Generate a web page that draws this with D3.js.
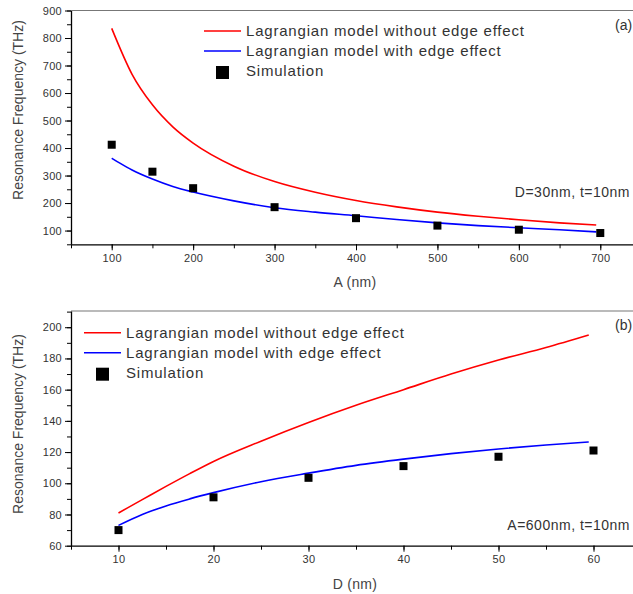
<!DOCTYPE html>
<html>
<head>
<meta charset="utf-8">
<title>Resonance frequency</title>
<script src="https://cdn.jsdelivr.net/npm/d3@7/dist/d3.min.js"></script>
<style>
  body { margin: 0; background: #fff; }
  svg { display: block; font-family: "Liberation Sans", Arial, sans-serif; }
</style>
</head>
<body>
<svg width="633" height="594"></svg>
<script>
// panel (a): frequency vs A, D=30nm t=10nm
var aModelA = [100, 125, 150, 175, 200, 250, 300, 350, 400, 450, 500, 550, 600, 650, 695];
var aNoEdge = [835, 668, 557, 477, 418, 334, 278, 239, 209, 186, 167, 152, 139, 128, 120];
var aEdgeA = [100, 110, 125, 150, 175, 200, 250, 300, 350, 400, 450, 500, 550, 600, 650, 695];
var aEdge = [363, 345, 320, 287, 260, 240, 208, 183, 167, 154, 140, 128, 118, 110, 103, 95];
var aSimA = [100, 150, 200, 300, 400, 500, 600, 700];
var aSim = [412, 314, 254, 185, 145, 118, 103, 91];
var aTicks = [100, 200, 300, 400, 500, 600, 700];
var aYTicks = [100, 200, 300, 400, 500, 600, 700, 800, 900];

// panel (b): frequency vs D, A=600nm t=10nm
var bModelD = [10, 12.5, 15, 17.5, 20, 25, 30, 35, 40, 45, 50, 55, 59.5];
var bNoEdge = [81, 89.5, 98, 106.2, 114, 127, 139, 150, 160, 170, 179, 187, 195];
var bEdgeD = [10, 12.5, 15, 17.5, 20, 25, 30, 35, 40, 45, 50, 55, 59.5];
var bEdge = [73, 80, 85.5, 90, 94, 101, 106.5, 111.5, 115.5, 119, 122, 124.5, 126.5];
var bSimD = [10, 20, 30, 40, 50, 60];
var bSim = [70, 91, 103.5, 111, 117, 121];
var bTicks = [10, 20, 30, 40, 50, 60];
var bYTicks = [60, 80, 100, 120, 140, 160, 180, 200];

var legendNames = ["Lagrangian model without edge effect", "Lagrangian model with edge effect", "Simulation"];
var svg = d3.select("svg");

function panel(o) {
  var x = d3.scaleLinear().domain(o.xDom).range([71, 641]);
  var y = d3.scaleLinear().domain(o.yDom).range([o.bottom, o.top]);
  var g = svg.append("g");

  // top / right frame
  g.append("line").attr("x1", 71).attr("x2", 641).attr("y1", o.top).attr("y2", o.top)
    .attr("stroke", "#777").attr("stroke-width", 1.2);
  g.append("line").attr("x1", 641).attr("x2", 641).attr("y1", o.top).attr("y2", o.bottom)
    .attr("stroke", "#777");

  // minor ticks
  var xMinor = d3.range(o.xDom[0], o.xDom[1] + 1e-9, o.xStep / 2);
  var yMinor = d3.range(o.yTicks[0] - o.yStep / 2, o.yDom[1] + 1e-9, o.yStep / 2).filter(function(v){ return v >= o.yDom[0]; });
  g.append("g").attr("transform", "translate(0," + o.bottom + ")")
    .call(d3.axisBottom(x).tickValues(xMinor).tickSize(4).tickFormat(""))
    .call(function(s){ s.select(".domain").remove(); });
  g.append("g").attr("transform", "translate(71,0)")
    .call(d3.axisLeft(y).tickValues(yMinor).tickSize(4).tickFormat(""))
    .call(function(s){ s.select(".domain").remove(); });

  // major axes
  var xa = g.append("g").attr("transform", "translate(0," + o.bottom + ")")
    .call(d3.axisBottom(x).tickValues(o.xTicks).tickSize(6).tickSizeOuter(0).tickPadding(4));
  var ya = g.append("g").attr("transform", "translate(71,0)")
    .call(d3.axisLeft(y).tickValues(o.yTicks).tickSize(6).tickSizeOuter(0).tickPadding(3));
  [xa, ya].forEach(function(a){
    a.selectAll("text").attr("font-size", 11).attr("fill", "#333").attr("letter-spacing", 0.3)
      .attr("font-family", "'Liberation Sans', Arial, sans-serif");
    a.select(".domain").attr("stroke-width", 1.3);
  });

  var line = d3.line().x(function(d){ return x(d[0]); }).y(function(d){ return y(d[1]); })
    .curve(d3.curveMonotoneX);
  g.append("path").datum(d3.zip(o.edgeX, o.edge)).attr("d", line)
    .attr("fill", "none").attr("stroke", "#0000ff").attr("stroke-width", 1.6);
  g.append("path").datum(d3.zip(o.noEdgeX, o.noEdge)).attr("d", line)
    .attr("fill", "none").attr("stroke", "#ff0000").attr("stroke-width", 1.6);

  g.selectAll(".sim").data(d3.zip(o.simX, o.sim)).enter().append("rect")
    .attr("x", function(d){ return x(d[0]) - 4; })
    .attr("y", function(d){ return y(d[1]) - 4; })
    .attr("width", 8).attr("height", 8).attr("fill", "#000");

  // legend
  var lg = g.append("g").attr("transform", "translate(" + o.legX + "," + o.legY + ")");
  lg.append("line").attr("x1", 0).attr("x2", 37).attr("y1", 0).attr("y2", 0)
    .attr("stroke", "#ff0000").attr("stroke-width", 1.6);
  lg.append("line").attr("x1", 0).attr("x2", 37).attr("y1", 20).attr("y2", 20)
    .attr("stroke", "#0000ff").attr("stroke-width", 1.6);
  lg.append("rect").attr("x", 12).attr("y", 35).attr("width", 13).attr("height", 13).attr("fill", "#000");
  lg.selectAll("text").data(legendNames).enter().append("text")
    .attr("x", 42).attr("y", function(d, i){ return i * 20 + 5; })
    .attr("font-size", 15).attr("letter-spacing", 0.8).attr("fill", "#333").text(function(d){ return d; });

  // labels
  g.append("text").attr("x", 615).attr("y", o.top + 19).attr("font-size", 14).attr("fill", "#333").text(o.tag);
  g.append("text").attr("x", 630).attr("y", o.noteY).attr("text-anchor", "end")
    .attr("font-size", 14).attr("letter-spacing", 0.5).attr("fill", "#333").text(o.note);
  g.append("text").attr("x", 355).attr("y", o.bottom + 43).attr("text-anchor", "middle")
    .attr("font-size", 14).attr("letter-spacing", 0.3).attr("fill", "#444").text(o.xTitle);
  g.append("text").attr("transform", "translate(23," + o.yTitleY + ") rotate(-90)")
    .attr("text-anchor", "middle").attr("font-size", 14).attr("fill", "#444")
    .text("Resonance Frequency (THz)");
}

panel({
  xDom: [50, 750], yDom: [50, 900], top: 10.5, bottom: 244.3,
  xTicks: aTicks, yTicks: aYTicks, xStep: 100, yStep: 100,
  noEdgeX: aModelA, noEdge: aNoEdge, edgeX: aEdgeA, edge: aEdge, simX: aSimA, sim: aSim,
  legX: 204, legY: 31, tag: "(a)", note: "D=30nm, t=10nm", noteY: 197,
  xTitle: "A (nm)", yTitleY: 110
});

panel({
  xDom: [5, 65], yDom: [60, 210.4], top: 311, bottom: 545.7,
  xTicks: bTicks, yTicks: bYTicks, xStep: 10, yStep: 20,
  noEdgeX: bModelD, noEdge: bNoEdge, edgeX: bEdgeD, edge: bEdge, simX: bSimD, sim: bSim,
  legX: 84, legY: 332.7, tag: "(b)", note: "A=600nm, t=10nm", noteY: 530,
  xTitle: "D (nm)", yTitleY: 424
});
</script>
</body>
</html>
